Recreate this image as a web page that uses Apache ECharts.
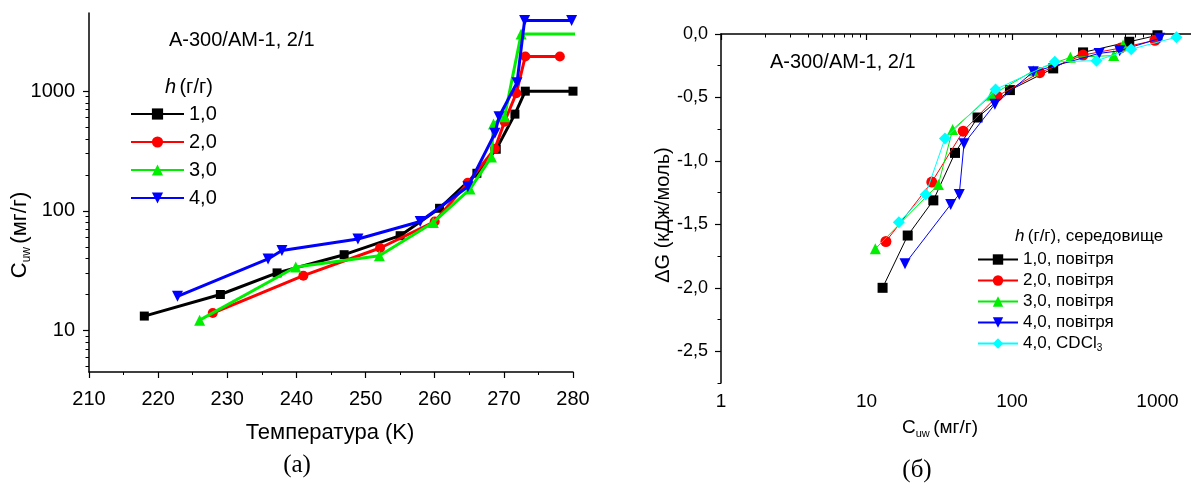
<!DOCTYPE html>
<html>
<head>
<meta charset="utf-8">
<script src="https://cdn.jsdelivr.net/npm/echarts@6/dist/echarts.min.js"></script>
<style>
html,body{margin:0;padding:0;background:#fff;}
#chart{width:1191px;height:492px;}
</style>
</head>
<body>
<div id="chart"></div>
<script>
// ---------- data: panel (a) ----------
var tempH1 = [218, 229, 237.2, 246.9, 255, 260.7, 266.1, 268.9, 271.6, 273.1, 280];
var cuwH1  = [13.2, 20, 30.3, 43, 62, 105, 206, 327, 643, 1000, 1000];
var tempH2 = [227.9, 241, 252.1, 260, 264.8, 268.7, 270.1, 271.8, 273.1, 278.1];
var cuwH2  = [14, 28.7, 48.9, 81.4, 172, 330, 555, 960, 1950, 1950];
var tempH3 = [226, 239.9, 252, 259.8, 265.1, 268.2, 268.5, 270.1, 272.5, 282];
var cuwH3  = [12.2, 33.9, 42.2, 80, 152, 282, 531, 611, 3000, 3000];
var tempH4 = [222.8, 235.9, 237.9, 248.9, 257.9, 264.8, 268.7, 269.3, 271.9, 273, 279.8];
var cuwH4  = [19.3, 39.6, 46.6, 58.1, 81.4, 159, 444, 611, 1175, 3900, 3900];
var namesA = ['1,0', '2,0', '3,0', '4,0'];
var cuwTicks = [10, 100, 1000];

// ---------- data: panel (б) ----------
var cB1 = [12.9, 19.2, 28.8, 40.6, 58, 96.8, 192, 308, 640, 1000];
var gB1 = [-2.0, -1.588, -1.311, -0.937, -0.658, -0.442, -0.271, -0.145, -0.061, -0.01];
var cB2 = [13.6, 28.1, 46.2, 79.1, 155, 308, 560, 960];
var gB2 = [-1.635, -1.167, -0.766, -0.49, -0.305, -0.166, -0.11, -0.05];
var cB3 = [11.5, 31.2, 39.1, 72.4, 140, 252, 500, 580];
var gB3 = [-1.693, -1.185, -0.753, -0.482, -0.29, -0.184, -0.17, -0.087];
var cB4 = [18.4, 37.9, 43.4, 46.8, 76.3, 140, 397, 550, 1037];
var gB4 = [-1.811, -1.343, -1.264, -0.864, -0.553, -0.298, -0.153, -0.132, -0.034];
var cB5 = [16.7, 25.5, 34.6, 77.1, 197, 381, 660, 1350];
var gB5 = [-1.483, -1.264, -0.824, -0.437, -0.219, -0.21, -0.12, -0.025];
var namesB = ['1,0, повітря', '2,0, повітря', '3,0, повітря', '4,0, повітря', '4,0, CDCl3'];
var cuwTicksB = [1, 10, 100, 1000];
var dgTicks = [0, -0.5, -1.0, -1.5, -2.0, -2.5];
var dgMinorTicks = [-0.25, -0.75, -1.25, -1.75, -2.25, -2.75];

function zip(a, b) { return a.map(function (v, i) { return [v, b[i]]; }); }
function minorLog(lo, hi) {
  var out = [];
  for (var d = lo; d < hi; d *= 10) for (var k = 2; k <= 9; k++) out.push(d * k);
  return out;
}

var FONT = '"Liberation Sans", Arial, sans-serif';
var axisLineStyle = { color: '#000', width: 1.5 };

var chart = echarts.init(document.getElementById('chart'), null, { renderer: 'canvas' });

var colors = ['#000000', '#ff0000', '#00ee00', '#0000ff', '#00ffff'];
var symbolsA = [
  { symbol: 'rect', size: 9, rot: 0 },
  { symbol: 'circle', size: 10, rot: 0 },
  { symbol: 'triangle', size: 11, rot: 0 },
  { symbol: 'triangle', size: 11, rot: 180 }
];
var symbolsB = [
  { symbol: 'rect', size: 10, rot: 0 },
  { symbol: 'circle', size: 11, rot: 0 },
  { symbol: 'triangle', size: 11, rot: 0 },
  { symbol: 'triangle', size: 11, rot: 180 },
  { symbol: 'diamond', size: 12, rot: 0 }
];
var dataA = [zip(tempH1, cuwH1), zip(tempH2, cuwH2), zip(tempH3, cuwH3), zip(tempH4, cuwH4)];
var dataB = [zip(cB1, gB1), zip(cB2, gB2), zip(cB3, gB3), zip(cB4, gB4), zip(cB5, gB5)];

var series = [];
dataA.forEach(function (d, i) {
  series.push({
    name: namesA[i], type: 'line', xAxisIndex: 0, yAxisIndex: 0, data: d,
    symbol: symbolsA[i].symbol, symbolSize: symbolsA[i].size, symbolRotate: symbolsA[i].rot,
    showAllSymbol: true, clip: true,
    lineStyle: { color: colors[i], width: 3 }, itemStyle: { color: colors[i] },
    z: 2 + i
  });
});
dataB.forEach(function (d, i) {
  series.push({
    name: namesB[i], type: 'line', xAxisIndex: 1, yAxisIndex: 2, data: d,
    symbol: symbolsB[i].symbol, symbolSize: symbolsB[i].size, symbolRotate: symbolsB[i].rot,
    showAllSymbol: true, clip: true,
    lineStyle: { color: colors[i], width: 1 }, itemStyle: { color: colors[i] },
    z: 2 + i
  });
});

var option = {
  backgroundColor: '#fff',
  animation: false,
  textStyle: { fontFamily: FONT },
  grid: [
    { left: 89, top: 13, width: 484, height: 359 },
    { left: 721, top: 34, width: 470, height: 349 }
  ],
  xAxis: [
    {
      type: 'value', gridIndex: 0, position: 'bottom', min: 210, max: 280, interval: 10,
      axisLine: { lineStyle: axisLineStyle },
      axisTick: { length: 6, lineStyle: { color: '#000', width: 1.2 } },
      minorTick: { show: true, splitNumber: 2, length: 3, lineStyle: { color: '#000', width: 1 } },
      splitLine: { show: false },
      axisLabel: { color: '#000', fontSize: 20, fontFamily: FONT, margin: 17 }
    },
    {
      type: 'log', gridIndex: 1, position: 'bottom', min: 1, max: 1700, logBase: 10,
      axisLine: { lineStyle: axisLineStyle },
      axisTick: { length: 6, customValues: cuwTicksB, lineStyle: { color: '#000', width: 1.2 } },
      splitLine: { show: false },
      axisLabel: { color: '#000', fontSize: 19, fontFamily: FONT, margin: 9, customValues: cuwTicksB,
        formatter: function (v) { return String(Math.round(v)); } }
    },
    {
      type: 'log', gridIndex: 1, position: 'bottom', offset: 0, min: 1, max: 1700, logBase: 10,
      axisLine: { show: false },
      axisTick: { length: 3.5, customValues: minorLog(1, 1000).filter(function (v) { return v <= 1700; }), lineStyle: { color: '#000', width: 1 } },
      splitLine: { show: false },
      axisLabel: { show: false }
    }
  ],
  yAxis: [
    {
      type: 'log', gridIndex: 0, position: 'left', min: 4.5, max: 4500, logBase: 10,
      axisLine: { show: true, lineStyle: axisLineStyle },
      axisTick: { show: true, length: 6, customValues: cuwTicks, lineStyle: { color: '#000', width: 1.2 } },
      splitLine: { show: false },
      axisLabel: { color: '#000', fontSize: 20, fontFamily: FONT, margin: 14, customValues: cuwTicks,
        formatter: function (v) { return String(Math.round(v)); } }
    },
    {
      type: 'log', gridIndex: 0, position: 'left', offset: 0, min: 4.5, max: 4500, logBase: 10,
      axisLine: { show: false },
      axisTick: { show: true, length: 3.5, customValues: minorLog(1, 1000).filter(function (v) { return v >= 4.5 && v <= 4500; }), lineStyle: { color: '#000', width: 1 } },
      splitLine: { show: false },
      axisLabel: { show: false }
    },
    {
      type: 'value', gridIndex: 1, position: 'left', min: -2.75, max: 0,
      axisLine: { show: true, lineStyle: axisLineStyle },
      axisTick: { show: true, length: 6, customValues: dgTicks, lineStyle: { color: '#000', width: 1.2 } },
      splitLine: { show: false },
      axisLabel: { color: '#000', fontSize: 18, fontFamily: FONT, margin: 13, customValues: dgTicks,
        formatter: function (v) { return (Math.abs(v) < 1e-9 ? 0 : v).toFixed(1).replace('.', ','); } }
    },
    {
      type: 'value', gridIndex: 1, position: 'left', offset: 0, min: -2.75, max: 0,
      axisLine: { show: false },
      axisTick: { show: true, length: 3.5, customValues: dgMinorTicks, lineStyle: { color: '#000', width: 1 } },
      splitLine: { show: false },
      axisLabel: { show: false }
    }
  ],
  legend: [
    {
      data: namesA, orient: 'vertical', left: 125, top: 99,
      itemWidth: 53, itemHeight: 14, itemGap: 8,
      textStyle: { fontSize: 20, color: '#000', fontFamily: FONT }
    },
    {
      data: namesB, orient: 'vertical', left: 972, top: 246,
      itemWidth: 40, itemHeight: 13, itemGap: 4,
      textStyle: { fontSize: 17, color: '#000', fontFamily: FONT,
        rich: { s: { fontSize: 10, fontFamily: FONT, padding: [9, 0, 0, 0] } } },
      formatter: function (name) { return name === '4,0, CDCl3' ? '4,0, CDCl{s|3}' : name; }
    }
  ],
  graphic: [
    { type: 'text', left: 169, top: 30, style: { text: 'A-300/AM-1, 2/1', font: '20px ' + FONT, fill: '#000' } },
    { type: 'text', left: 165, top: 77, style: { text: '{i|h} {n|(г/г)}', fill: '#000',
      rich: { i: { fontStyle: 'italic', fontSize: 20, fontFamily: FONT }, n: { fontSize: 20, fontFamily: FONT } } } },
    { type: 'text', left: 770, top: 52, style: { text: 'A-300/AM-1, 2/1', font: '20px ' + FONT, fill: '#000' } },
    { type: 'text', left: 1015, top: 228, style: { text: '{i|h} {n|(г/г), середовище}', fill: '#000',
      rich: { i: { fontStyle: 'italic', fontSize: 17, fontFamily: FONT }, n: { fontSize: 17, fontFamily: FONT } } } },
    // axis titles
    { type: 'text', x: 330, y: 433, style: { text: 'Температура (K)', font: '22px ' + FONT, fill: '#000', align: 'center', verticalAlign: 'middle' } },
    { type: 'text', x: 297, y: 465, style: { text: '(a)', font: '25px "Liberation Serif", "Times New Roman", serif', fill: '#000', align: 'center', verticalAlign: 'middle' } },
    { type: 'text', x: 20, y: 235, rotation: Math.PI / 2, style: { text: '{n|C}{s|uw} {n|(мг/г)}', fill: '#000', align: 'center', verticalAlign: 'middle',
      rich: { n: { fontSize: 22, fontFamily: FONT }, s: { fontSize: 12, fontFamily: FONT, padding: [14, 0, 0, 0] } } } },
    { type: 'text', x: 940, y: 428, style: { text: '{n|C}{s|uw} {n|(мг/г)}', fill: '#000', align: 'center', verticalAlign: 'middle',
      rich: { n: { fontSize: 19, fontFamily: FONT }, s: { fontSize: 11, fontFamily: FONT, padding: [12, 0, 0, 0] } } } },
    { type: 'text', x: 917, y: 470, style: { text: '(б)', font: '25px "Liberation Serif", "Times New Roman", serif', fill: '#000', align: 'center', verticalAlign: 'middle' } },
    { type: 'text', x: 663, y: 215, rotation: Math.PI / 2, style: { text: 'ΔG (кДж/моль)', font: '20px ' + FONT, fill: '#000', align: 'center', verticalAlign: 'middle' } }
  ],
  series: series
};
chart.setOption(option);
</script>
</body>
</html>
